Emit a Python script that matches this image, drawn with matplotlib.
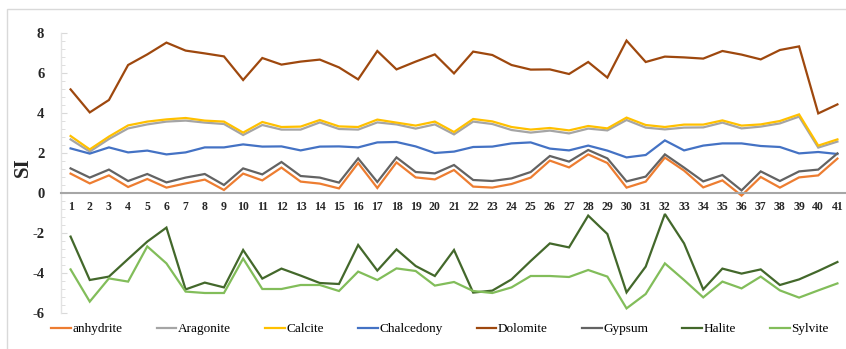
import numpy as np
import matplotlib
matplotlib.use("Agg")
import matplotlib.pyplot as plt
from matplotlib.ticker import MultipleLocator
from matplotlib.patches import Rectangle

plt.rcParams.update({
    "font.family": "serif",
    "font.serif": ["Liberation Serif", "DejaVu Serif"],
    "axes.unicode_minus": False,
})

samples = list(range(1, 42))

anhydrite  = [0.97, 0.48, 0.88, 0.30, 0.70, 0.27, 0.48, 0.67, 0.15, 0.97,
              0.63, 1.27, 0.57, 0.47, 0.23, 1.50, 0.25, 1.53, 0.78, 0.68,
              1.15, 0.32, 0.27, 0.45, 0.77, 1.62, 1.28, 1.93, 1.50, 0.27,
              0.57, 1.77, 1.12, 0.28, 0.63, -0.13, 0.80, 0.27, 0.78, 0.88, 1.72]
aragonite  = [2.68, 2.07, 2.70, 3.23, 3.43, 3.57, 3.62, 3.52, 3.45, 2.90,
              3.40, 3.17, 3.17, 3.53, 3.20, 3.17, 3.53, 3.43, 3.22, 3.43,
              2.93, 3.57, 3.45, 3.15, 3.02, 3.12, 2.98, 3.22, 3.13, 3.65,
              3.27, 3.18, 3.27, 3.28, 3.52, 3.23, 3.32, 3.48, 3.82, 2.27, 2.57]
calcite    = [2.85, 2.18, 2.82, 3.38, 3.57, 3.68, 3.75, 3.62, 3.57, 3.02,
              3.55, 3.30, 3.32, 3.65, 3.33, 3.30, 3.67, 3.52, 3.37, 3.57,
              3.05, 3.70, 3.58, 3.30, 3.17, 3.25, 3.13, 3.35, 3.23, 3.77,
              3.40, 3.30, 3.42, 3.42, 3.63, 3.37, 3.43, 3.60, 3.93, 2.37, 2.68]
chalcedony = [2.23, 1.97, 2.28, 2.03, 2.12, 1.93, 2.03, 2.28, 2.28, 2.43,
              2.32, 2.33, 2.13, 2.32, 2.33, 2.28, 2.53, 2.55, 2.33, 2.00,
              2.07, 2.30, 2.32, 2.48, 2.53, 2.22, 2.13, 2.37, 2.12, 1.78,
              1.90, 2.63, 2.13, 2.37, 2.48, 2.48, 2.35, 2.30, 1.98, 2.05, 1.95]
dolomite   = [5.18, 4.03, 4.65, 6.40, 6.93, 7.52, 7.12, 6.98, 6.83, 5.65,
              6.75, 6.42, 6.57, 6.67, 6.28, 5.68, 7.10, 6.18, 6.57, 6.93,
              5.98, 7.07, 6.90, 6.40, 6.17, 6.18, 5.95, 6.55, 5.77, 7.62,
              6.55, 6.82, 6.78, 6.72, 7.10, 6.92, 6.68, 7.15, 7.33, 3.98, 4.43]
gypsum     = [1.23, 0.77, 1.17, 0.60, 0.95, 0.53, 0.77, 0.95, 0.40, 1.23,
              0.93, 1.55, 0.85, 0.77, 0.52, 1.73, 0.55, 1.78, 1.05, 0.98,
              1.40, 0.65, 0.60, 0.73, 1.05, 1.85, 1.57, 2.15, 1.73, 0.58,
              0.82, 1.93, 1.27, 0.58, 0.90, 0.13, 1.08, 0.60, 1.08, 1.17, 1.98]
halite     = [-2.18, -4.35, -4.18, -3.30, -2.43, -1.73, -4.82, -4.48, -4.72, -2.85,
              -4.28, -3.78, -4.13, -4.50, -4.55, -2.60, -3.88, -2.82, -3.65, -4.15,
              -2.85, -4.98, -4.88, -4.32, -3.40, -2.52, -2.72, -1.13, -2.05, -4.97,
              -3.68, -1.05, -2.52, -4.82, -3.78, -4.03, -3.82, -4.60, -4.32, -3.90, -3.45]
sylvite    = [-3.82, -5.43, -4.27, -4.43, -2.67, -3.52, -4.93, -5.00, -5.00, -3.28,
              -4.80, -4.80, -4.60, -4.60, -4.90, -3.93, -4.35, -3.77, -3.90, -4.63,
              -4.45, -4.90, -5.00, -4.72, -4.15, -4.15, -4.20, -3.85, -4.18, -5.77,
              -5.05, -3.52, -4.35, -5.22, -4.43, -4.77, -4.18, -4.87, -5.23, -4.87, -4.52]

series = [
    ("anhydrite",  anhydrite,  "#ED7D31"),
    ("Aragonite",  aragonite,  "#A5A5A5"),
    ("Calcite",    calcite,    "#FFC000"),
    ("Chalcedony", chalcedony, "#4472C4"),
    ("Dolomite",   dolomite,   "#9E480E"),
    ("Gypsum",     gypsum,     "#636363"),
    ("Halite",     halite,     "#43682B"),
    ("Sylvite",    sylvite,    "#82BD5A"),
]

W, H = 846, 349
fig = plt.figure(figsize=(W / 100, H / 100), dpi=100)

# light frame round the chart area
fig.patches.append(Rectangle((7 / W, -0.1), 1.2, 1.1 - 9 / H, transform=fig.transFigure,
                             fill=False, edgecolor="#D9D9D9", lw=1.0))

ax = fig.add_axes([61 / W, 1 - 313 / H, 786 / W, 280 / H])

for name, vals, col in series:
    ax.plot(samples, vals, color=col, lw=1.6, label=name, solid_joinstyle="miter")

ax.set_xlim(0.5, 41.5)
ax.set_ylim(-6, 8)

ax.spines["top"].set_visible(False)
ax.spines["right"].set_visible(False)
ax.spines["bottom"].set_position(("data", 0))
ax.spines["bottom"].set_color("#A6A6A6")
ax.spines["bottom"].set_linewidth(1.5)
ax.spines["left"].set_color("#E3E3E3")
ax.spines["left"].set_linewidth(1.0)

ax.set_xticks(samples)
ax.set_xticklabels([str(s) for s in samples], fontsize=8.5, fontweight="bold", color="#262626")
ax.tick_params(axis="x", length=0, pad=6)

ax.yaxis.set_major_locator(MultipleLocator(2))
ax.yaxis.set_minor_locator(MultipleLocator(0.4))
ax.tick_params(axis="y", which="major", length=4, direction="in", color="#D9D9D9", pad=12,
               labelsize=10.5)
ax.tick_params(axis="y", which="minor", length=3, direction="in", color="#D9D9D9")
for lbl in ax.get_yticklabels():
    lbl.set_fontweight("bold")
    lbl.set_color("#262626")

ax.set_ylabel("SI", fontsize=15, fontweight="bold", color="#262626")
ax.yaxis.set_label_coords(-0.036, 0.52)

fig.legend(loc="center", bbox_to_anchor=(0.52, 1 - 329 / H), ncol=8, frameon=False,
           fontsize=9.5, handlelength=1.5, handletextpad=0.1, columnspacing=2.6)

fig.savefig("out.png", dpi=100)
